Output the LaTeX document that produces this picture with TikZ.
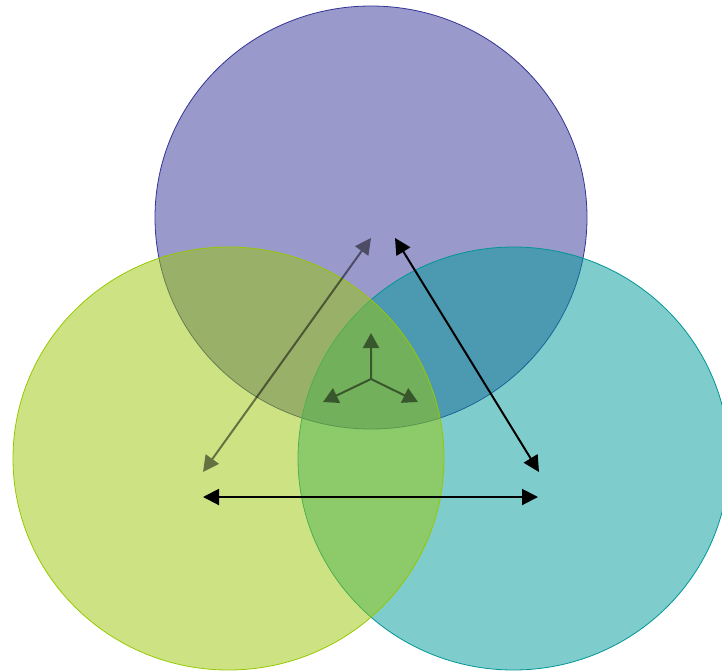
\documentclass[tikz,border=0pt]{standalone}
\usepackage{tikz}
\usetikzlibrary{arrows.meta}
\usepackage{xcolor}

\definecolor{topfill}{RGB}{51,51,153}
\definecolor{topline}{RGB}{52,52,150}
\definecolor{leftfill}{RGB}{155,200,8}
\definecolor{leftline}{RGB}{150,200,0}
\definecolor{rightfill}{RGB}{0,153,153}
\definecolor{rightline}{RGB}{0,150,150}

\begin{document}
\begin{tikzpicture}[x=1pt, y=-1pt, line join=round,
    bubble/.style={fill opacity=0.5, line width=0.8pt},
    link/.style={line width=2pt, {Triangle[length=16pt, width=16pt]}-{Triangle[length=16pt, width=16pt]}},
    spoke/.style={line width=2pt, -{Triangle[length=15pt, width=16pt]}},
    faded/.style={transparency group, opacity=0.5}]

    % Frame of the picture (pixel coordinates, y downwards)
    \useasboundingbox (0, 0) rectangle (722, 670);
    \clip (0, 0) rectangle (722, 670);

    % Centres of the three circles
    \coordinate (T) at (371, 217.5);
    \coordinate (L) at (228.5, 458.5);
    \coordinate (R) at (513.5, 458.5);

    % Ends of the connectors
    \coordinate (TL) at (371, 238);
    \coordinate (TR) at (395, 238);
    \coordinate (LT) at (203, 472);
    \coordinate (RT) at (539, 472);
    \coordinate (LB) at (203, 497);
    \coordinate (RB) at (538, 497);

    % Hub in the middle
    \coordinate (H) at (371, 379);
    \coordinate (Hup) at (371, 333);
    \coordinate (Hleft) at (323, 402);
    \coordinate (Hright) at (418, 402);

    % Circles: top, right, then left on top of both
    \draw[bubble, fill=topfill, draw=topline] (T) ellipse [x radius=216, y radius=211.5];
    \draw[bubble, fill=rightfill, draw=rightline] (R) ellipse [x radius=215.5, y radius=211.5];
    \draw[bubble, fill=leftfill, draw=leftline] (L) ellipse [x radius=215.5, y radius=211.5];

    % Connectors between the circles
    \begin{scope}[faded]
        \draw[link] (TL) -- (LT);
    \end{scope}
    \draw[link] (TR) -- (RT);
    \draw[link] (LB) -- (RB);

    % Three spokes from the hub
    \begin{scope}[faded]
        \draw[spoke] (H) -- (Hup);
        \draw[spoke] (H) -- (Hleft);
        \draw[spoke] (H) -- (Hright);
    \end{scope}

\end{tikzpicture}
\end{document}
